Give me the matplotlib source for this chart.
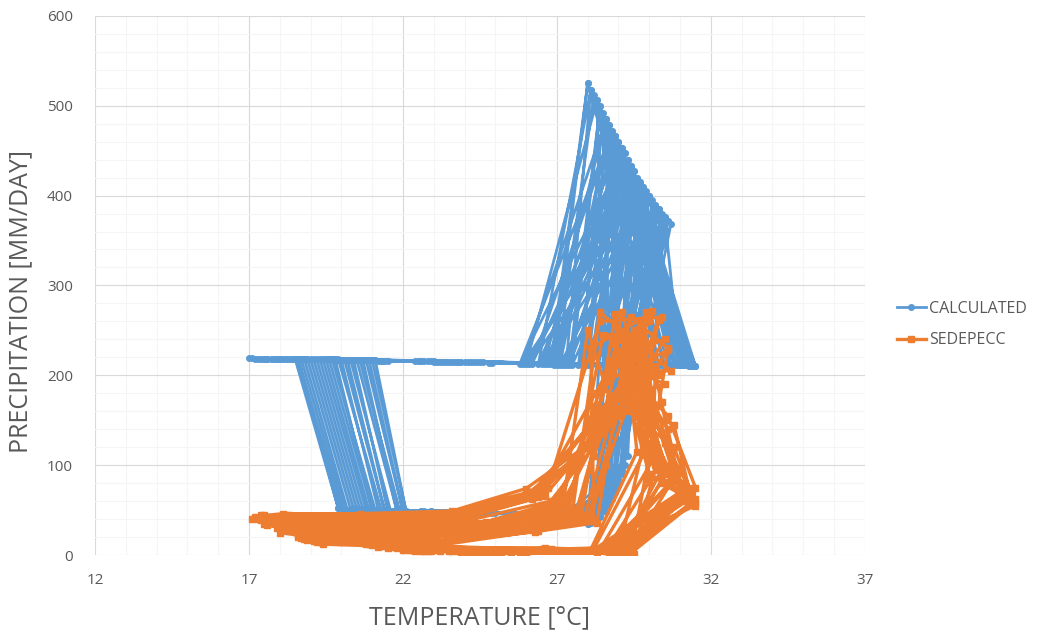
"""
Calculated vs SEDEPECC precipitation against temperature (monthly loops).
"""

import numpy as np
import matplotlib.pyplot as plt
from matplotlib.ticker import MultipleLocator

# ============================================================================
# DATA (one list per month, one value per year)
# ============================================================================

# CALCULATED
calc_t_m1 = [29.6, 30.0, 29.2, 30.3, 28.9, 29.8, 30.6, 29.4, 30.1, 29.0, 30.4, 29.7, 28.7, 30.2, 29.5, 30.7,
             29.3, 30.5, 28.8, 29.9, 30.2, 29.1, 28.6, 30.0, 29.7, 30.6, 29.4, 28.9]
calc_p_m1 = [420, 400, 447, 385, 466, 410, 372, 433, 395, 460, 380, 415, 478, 390, 427, 368,
             440, 376, 472, 405, 390, 453, 485, 400, 415, 372, 433, 466]
calc_t_m2 = [26.8, 27.5, 26.2, 28.1, 27.0, 25.9, 28.6, 27.3, 26.5, 28.9, 27.8, 26.0, 27.1, 28.3, 26.7, 29.2,
             26.4, 27.7, 25.8, 28.5, 27.2, 26.9, 28.0, 26.1, 27.4, 28.8, 26.6, 27.9]
calc_p_m2 = [213, 212, 213, 212, 212, 213, 212, 212, 213, 211, 212, 213, 212, 212, 213, 211,
             213, 212, 213, 212, 212, 212, 212, 213, 212, 211, 213, 212]
calc_t_m3 = [28.0, 28.4, 28.8, 29.1, 28.2, 28.6, 29.5, 28.1, 29.0, 29.8, 28.5, 28.3, 30.0, 28.9, 29.3, 30.5,
             28.1, 28.7, 29.2, 28.3, 29.6, 28.0, 28.9, 29.4, 28.4, 30.3, 28.6, 29.0]
calc_p_m3 = [525, 500, 472, 453, 512, 485, 427, 518, 460, 410, 492, 506, 400, 466, 440, 376,
             518, 478, 447, 506, 420, 525, 466, 433, 500, 385, 485, 460]
calc_t_m4 = [31.3, 30.6, 31.5, 30.2, 31.0, 29.8, 31.4, 30.9, 31.2, 30.4, 31.5, 29.5, 31.1, 30.7, 31.3, 31.0,
             31.4, 30.8, 30.0, 31.2, 31.5, 30.5, 31.0, 29.9, 31.3, 30.6, 31.1, 30.3]
calc_p_m4 = [211, 211, 210, 211, 211, 212, 210, 211, 211, 211, 210, 212, 211, 211, 210, 211,
             210, 211, 211, 211, 210, 211, 211, 212, 210, 211, 211, 211]
calc_t_m5 = [24.0, 23.2, 22.6, 24.5, 23.8, 22.9, 23.5, 24.2, 22.4, 23.0, 24.8, 23.6, 22.7, 23.9, 24.4, 23.3,
             23.4, 24.6, 22.5, 23.7, 24.1, 22.8, 23.1, 24.9, 23.0, 24.3, 22.6, 23.8]
calc_p_m5 = [215, 215, 216, 215, 215, 216, 215, 215, 216, 215, 214, 215, 216, 215, 215, 215,
             215, 215, 216, 215, 215, 216, 215, 214, 216, 215, 216, 215]
calc_t_m6 = [20.5, 21.0, 19.8, 20.2, 21.3, 19.5, 20.8, 20.0, 21.5, 19.9, 20.6, 21.1, 20.3, 19.7, 20.9, 21.4,
             20.1, 21.2, 19.6, 20.7, 21.4, 19.9, 20.4, 21.0, 19.8, 20.6, 21.3, 20.2]
calc_p_m6 = [217, 217, 217, 217, 216, 218, 217, 217, 216, 217, 217, 217, 217, 218, 217, 216,
             217, 216, 218, 217, 216, 217, 217, 217, 218, 217, 216, 217]
calc_t_m7 = [17.8, 18.2, 17.5, 18.6, 17.2, 18.0, 18.9, 17.6, 18.4, 17.0, 18.1, 17.9, 18.7, 17.4, 18.3, 17.7,
             17.3, 18.5, 17.9, 18.8, 17.1, 18.2, 17.6, 18.6, 17.8, 18.0, 17.5, 18.4]
calc_p_m7 = [218, 218, 218, 218, 218, 218, 218, 218, 218, 219, 218, 218, 218, 218, 218, 218,
             218, 218, 218, 218, 219, 218, 218, 218, 218, 218, 218, 218]
calc_t_m8 = [19.0, 19.6, 18.5, 20.3, 19.3, 18.8, 20.8, 19.9, 20.1, 18.6, 21.1, 19.4, 20.5, 19.1, 20.6, 19.7,
             18.7, 20.0, 19.5, 20.9, 18.9, 20.4, 19.2, 21.0, 19.8, 20.2, 18.6, 20.7]
calc_p_m8 = [218, 218, 218, 217, 218, 218, 217, 218, 217, 218, 217, 218, 217, 218, 217, 218,
             218, 217, 218, 217, 218, 217, 218, 217, 218, 217, 218, 217]
calc_t_m9 = [20.4, 21.0, 19.9, 21.6, 20.7, 20.2, 22.0, 21.3, 21.4, 20.0, 22.1, 20.8, 21.8, 20.5, 21.9, 21.1,
             20.1, 21.2, 20.9, 22.0, 20.3, 21.5, 20.6, 22.1, 21.0, 21.4, 19.9, 21.8]
calc_p_m9 = [51, 50, 52, 49, 51, 50, 49, 50, 50, 52, 49, 51, 50, 51, 49, 50,
             51, 50, 50, 49, 51, 50, 51, 49, 50, 50, 52, 49]
calc_t_m10 = [23.0, 23.8, 22.6, 24.5, 23.3, 22.9, 24.8, 23.5, 24.1, 22.7, 25.0, 23.6, 24.3, 23.1, 24.6, 23.9,
              22.8, 24.0, 23.4, 24.7, 22.9, 24.2, 23.2, 24.9, 23.7, 24.4, 22.6, 24.5]
calc_p_m10 = [48, 48, 49, 47, 48, 49, 47, 48, 48, 49, 47, 48, 48, 48, 47, 48,
              48, 48, 48, 47, 49, 48, 48, 47, 48, 48, 49, 47]
calc_t_m11 = [26.0, 26.6, 25.5, 27.2, 26.3, 25.8, 27.5, 26.4, 26.9, 25.6, 27.6, 26.1, 27.0, 25.9, 27.3, 26.7,
              25.7, 26.8, 26.2, 27.4, 25.6, 26.9, 26.0, 27.6, 26.5, 27.1, 25.5, 27.2]
calc_p_m11 = [45, 45, 46, 44, 45, 46, 44, 45, 45, 46, 44, 45, 45, 46, 44, 45,
              46, 45, 45, 44, 46, 45, 45, 44, 45, 45, 46, 44]
calc_t_m12 = [28.3, 28.6, 28.0, 28.9, 28.4, 28.2, 29.1, 28.5, 28.7, 28.1, 29.2, 28.4, 28.8, 28.2, 29.0, 28.6,
              28.1, 28.8, 28.5, 29.0, 28.2, 28.7, 28.3, 29.3, 28.6, 28.9, 28.0, 29.1]
calc_p_m12 = [40, 55, 35, 70, 45, 38, 90, 50, 60, 36, 100, 42, 65, 39, 80, 48,
              37, 62, 52, 85, 40, 58, 44, 110, 55, 75, 34, 95]

# SEDEPECC
obs_t_m1 = [28.3, 29.0, 28.6, 29.4, 28.1, 28.8, 29.6, 28.4, 29.2, 28.0, 29.5, 28.7, 28.9, 28.2, 29.3, 28.5,
            28.1, 29.1, 28.4, 29.7, 28.6, 28.0, 29.4, 28.9, 28.3, 29.2, 28.7, 29.0]
obs_p_m1 = [180, 240, 150, 265, 120, 210, 230, 260, 190, 140, 250, 170, 220, 110, 200, 245,
            230, 160, 270, 210, 100, 250, 180, 268, 130, 225, 195, 155]
obs_t_m2 = [29.8, 30.3, 29.1, 30.6, 29.5, 30.0, 28.8, 30.4, 29.3, 30.1, 29.7, 30.5, 28.9, 29.9, 30.2, 29.4,
            30.0, 29.2, 30.7, 29.6, 30.3, 28.7, 30.5, 29.0, 30.1, 29.5, 30.6, 29.8]
obs_p_m2 = [250, 200, 270, 230, 180, 260, 240, 265, 160, 220, 255, 190, 235, 270, 210, 245,
            268, 230, 205, 250, 262, 175, 240, 215, 272, 195, 228, 258]
obs_t_m3 = [30.2, 29.4, 30.7, 29.8, 30.5, 29.2, 30.0, 29.6, 30.8, 29.9, 30.4, 29.3, 30.6, 29.7, 30.1, 29.5,
            29.6, 30.5, 29.1, 30.3, 29.8, 30.8, 29.4, 30.0, 29.2, 30.6, 29.9, 30.4]
obs_p_m3 = [150, 220, 100, 180, 130, 240, 90, 200, 120, 170, 80, 210, 140, 160, 110, 190,
            235, 125, 205, 95, 175, 145, 225, 115, 190, 155, 85, 170]
obs_t_m4 = [31.2, 30.5, 31.5, 30.0, 31.0, 29.8, 31.4, 30.7, 31.3, 30.2, 31.5, 29.6, 31.1, 30.8, 31.4, 30.4,
            30.9, 31.5, 30.1, 31.3, 30.6, 31.4, 29.9, 31.2, 30.3, 31.5, 30.8, 31.0]
obs_p_m4 = [60, 90, 55, 110, 70, 120, 65, 80, 75, 100, 58, 115, 62, 85, 72, 95,
            88, 62, 105, 70, 92, 57, 118, 66, 98, 75, 82, 64]
obs_t_m5 = [28.8, 29.1, 28.5, 29.4, 28.2, 29.0, 28.7, 29.3, 28.4, 29.5, 28.9, 28.1, 29.2, 28.6, 28.3, 29.0,
            28.7, 29.2, 28.4, 29.0, 28.9, 29.4, 28.2, 29.1, 28.6, 29.3, 28.5, 28.8]
obs_p_m5 = [4, 2, 8, 1, 6, 3, 5, 2, 7, 1, 4, 6, 2, 5, 3, 2,
            3, 1, 6, 2, 4, 2, 7, 3, 5, 1, 6, 3]
obs_t_m6 = [25.0, 24.2, 26.3, 23.5, 25.8, 24.7, 22.8, 26.0, 23.9, 25.4, 24.5, 26.6, 23.2, 25.2, 24.0, 26.8,
            24.8, 23.6, 26.1, 25.5, 23.0, 24.4, 26.5, 25.1, 23.8, 24.6, 25.9, 22.9]
obs_p_m6 = [3, 2, 6, 4, 2, 1, 5, 3, 2, 4, 1, 8, 5, 2, 3, 7,
            2, 4, 5, 3, 6, 1, 7, 2, 4, 3, 6, 5]
obs_t_m7 = [21.5, 20.8, 22.4, 20.2, 21.9, 22.8, 20.5, 21.2, 22.1, 20.0, 21.7, 22.6, 20.6, 21.0, 22.3, 21.4,
            21.0, 22.2, 20.4, 21.6, 22.7, 20.9, 21.3, 22.5, 20.3, 21.8, 22.0, 20.7]
obs_p_m7 = [8, 12, 5, 15, 10, 6, 18, 9, 7, 14, 11, 4, 16, 13, 6, 10,
            11, 6, 14, 9, 5, 12, 10, 7, 16, 8, 6, 13]
obs_t_m8 = [18.0, 17.5, 18.8, 17.2, 18.4, 19.2, 17.8, 18.6, 17.4, 19.0, 18.2, 17.6, 18.9, 17.1, 18.5, 19.4,
            17.9, 18.6, 17.3, 19.1, 18.3, 17.7, 18.8, 17.5, 19.3, 18.1, 17.4, 18.7]
obs_p_m8 = [25, 35, 18, 42, 30, 15, 38, 22, 45, 20, 28, 33, 17, 40, 26, 12,
            30, 20, 40, 16, 27, 36, 22, 44, 14, 32, 39, 19]
obs_t_m9 = [19.2, 18.5, 20.0, 18.2, 19.6, 20.4, 18.8, 19.4, 18.0, 20.2, 19.0, 18.6, 19.8, 18.3, 19.5, 20.5,
            18.9, 19.7, 18.4, 20.1, 19.3, 18.7, 20.3, 18.1, 19.9, 19.1, 18.5, 20.0]
obs_p_m9 = [30, 40, 22, 45, 28, 18, 35, 25, 42, 20, 32, 38, 24, 44, 27, 15,
            36, 26, 43, 20, 31, 39, 17, 46, 23, 34, 41, 21]
obs_t_m10 = [21.8, 21.0, 22.6, 20.6, 22.2, 23.2, 21.4, 22.0, 20.8, 23.0, 21.6, 21.2, 22.8, 20.7, 22.4, 23.4,
             21.5, 22.5, 20.9, 23.1, 21.9, 21.1, 22.7, 20.6, 23.3, 21.7, 20.8, 22.3]
obs_p_m10 = [25, 35, 18, 40, 30, 15, 45, 22, 38, 20, 28, 42, 24, 33, 27, 12,
             32, 21, 41, 16, 29, 39, 19, 46, 14, 34, 44, 23]
obs_t_m11 = [24.5, 23.8, 25.5, 23.6, 25.0, 26.2, 24.2, 24.8, 23.9, 26.0, 24.6, 24.0, 25.8, 23.7, 25.3, 26.4,
             24.3, 25.6, 23.7, 26.1, 24.9, 24.1, 25.9, 23.6, 26.3, 24.7, 23.9, 25.4]
obs_p_m11 = [35, 42, 30, 48, 38, 28, 45, 33, 40, 30, 36, 46, 32, 38, 34, 27,
             40, 30, 46, 29, 36, 43, 31, 49, 26, 37, 45, 33]
obs_t_m12 = [27.0, 26.4, 27.6, 26.1, 27.3, 28.0, 26.7, 27.1, 26.3, 27.9, 26.9, 26.5, 27.7, 26.2, 27.4, 28.2,
             26.8, 27.5, 26.2, 28.1, 27.2, 26.6, 27.8, 26.0, 28.3, 27.0, 26.4, 27.6]
obs_p_m12 = [50, 65, 45, 70, 55, 40, 75, 52, 68, 42, 58, 72, 48, 62, 53, 38,
             60, 47, 70, 42, 56, 66, 45, 74, 36, 57, 69, 50]

x_ticks = [12, 17, 22, 27, 32, 37]
y_ticks = [0, 100, 200, 300, 400, 500, 600]

BLUE = '#5B9BD5'
ORANGE = '#ED7D31'
TEXT = '#595959'


def to_series(temps, precs):
    """Stack month lists and flatten year by year (Jan..Dec, Jan..Dec, ...)."""
    t = np.array(temps).T.ravel()
    p = np.array(precs).T.ravel()
    return t, p


calc_t, calc_p = to_series(
    [calc_t_m1, calc_t_m2, calc_t_m3, calc_t_m4, calc_t_m5, calc_t_m6,
     calc_t_m7, calc_t_m8, calc_t_m9, calc_t_m10, calc_t_m11, calc_t_m12],
    [calc_p_m1, calc_p_m2, calc_p_m3, calc_p_m4, calc_p_m5, calc_p_m6,
     calc_p_m7, calc_p_m8, calc_p_m9, calc_p_m10, calc_p_m11, calc_p_m12])

obs_t, obs_p = to_series(
    [obs_t_m1, obs_t_m2, obs_t_m3, obs_t_m4, obs_t_m5, obs_t_m6,
     obs_t_m7, obs_t_m8, obs_t_m9, obs_t_m10, obs_t_m11, obs_t_m12],
    [obs_p_m1, obs_p_m2, obs_p_m3, obs_p_m4, obs_p_m5, obs_p_m6,
     obs_p_m7, obs_p_m8, obs_p_m9, obs_p_m10, obs_p_m11, obs_p_m12])

plt.rcParams['font.family'] = ['Open Sans', 'DejaVu Sans']

fig = plt.figure(figsize=(10.37, 6.34), dpi=100)
ax = fig.add_axes([0.0916, 0.1246, 0.7424, 0.8504])

ax.plot(calc_t, calc_p, color=BLUE, lw=2.0, marker='o', ms=4,
        label='CALCULATED', zorder=3)
ax.plot(obs_t, obs_p, color=ORANGE, lw=2.4, marker='s', ms=5,
        label='SEDEPECC', zorder=4)

ax.set_xlim(12, 37)
ax.set_ylim(0, 600)
ax.set_xticks(x_ticks)
ax.set_yticks(y_ticks)
ax.xaxis.set_minor_locator(MultipleLocator(1))
ax.yaxis.set_minor_locator(MultipleLocator(20))
ax.grid(which='major', color='#D9D9D9', lw=0.8)
ax.grid(which='minor', color='#F5F5F5', lw=0.8)
ax.set_axisbelow(True)
for s in ax.spines.values():
    s.set_visible(False)
ax.tick_params(which='both', length=0, colors=TEXT, labelsize=11)
ax.tick_params(axis='x', pad=13)
ax.tick_params(axis='y', pad=16)

ax.set_xlabel('TEMPERATURE [°C]', fontsize=18, color=TEXT)
ax.set_ylabel('PRECIPITATION [MM/DAY]', fontsize=18, color=TEXT)
ax.xaxis.set_label_coords(0.5, -0.093)
ax.yaxis.set_label_coords(-0.08, 0.47)

fig.legend(loc='center left', bbox_to_anchor=(0.851, 0.488), frameon=False,
           fontsize=11.5, labelcolor=TEXT, handlelength=1.8, handletextpad=0.2,
           labelspacing=0.95)

plt.savefig('out.png', dpi=100)
plt.close()
